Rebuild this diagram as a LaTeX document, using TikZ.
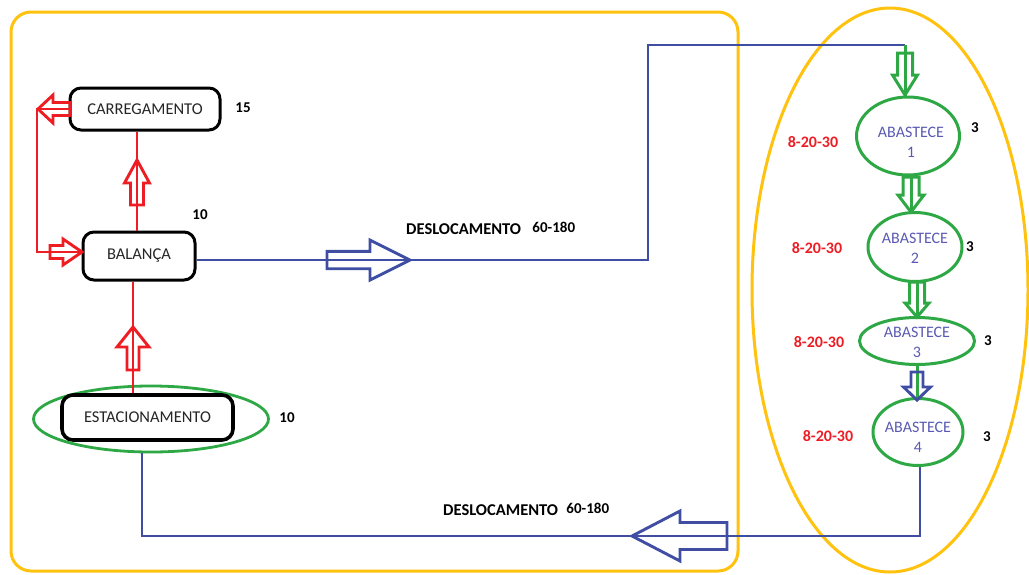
\documentclass[tikz,border=0pt]{standalone}
\usepackage{fontspec}
\setmainfont{Carlito}
\usetikzlibrary{shapes.geometric}
\definecolor{myred}{HTML}{EE1D24}
\definecolor{myblue}{HTML}{3F4EA3}
\definecolor{mygreen}{HTML}{2EA844}
\definecolor{myyellow}{HTML}{FFC20E}
\definecolor{abtxt}{HTML}{5A5AB4}
\newcommand{\hollowarrow}[8]{\draw[#1, shift={(#2,#3)}, rotate=#4] (0,0) -- (-#6,-#8) -- (-#6,-#7) -- (-#5,-#7) -- (-#5,#7) -- (-#6,#7) -- (-#6,#8) -- cycle;}
\tikzset{
  box/.style={draw=black, line width=3pt, rounded corners=11pt, fill=white, text=black!85, font=\fontsize{16.5}{19}\selectfont},
  ab/.style={ellipse, draw=mygreen, line width=3pt, inner sep=0pt},
  abt/.style={align=center, text=abtxt, font=\fontsize{16}{20}\selectfont, inner sep=0pt},
  num/.style={font=\bfseries\fontsize{15}{16}\selectfont, text=black},
  rng/.style={font=\bfseries\fontsize{16}{17}\selectfont, text=myred},
  dl/.style={font=\bfseries\fontsize{16.5}{17}\selectfont, text=black, anchor=west, inner sep=0pt},
  dln/.style={font=\bfseries\fontsize{15}{16}\selectfont, text=black, anchor=west, inner sep=0pt},
  redl/.style={draw=myred, line width=2.9pt},
  bluel/.style={draw=myblue, line width=2.9pt},
  greenl/.style={draw=mygreen, line width=3pt},
  yel/.style={draw=myyellow, line width=3pt}
}
\begin{document}
\begin{tikzpicture}[x=1pt,y=-1pt]
\useasboundingbox (0,0) rectangle (1029,574);
% yellow frames
\draw[yel, rounded corners=20pt] (11,12) rectangle (738,571);
\draw[yel] (890,290) ellipse [x radius=138pt, y radius=282pt];

% left nodes
\node[box, minimum width=150pt, minimum height=42pt] (car) at (145,109) {CARREGAMENTO};
\node[box, minimum width=112pt, minimum height=48pt] (bal) at (139,256) {BALANÇA};
\node[ellipse, draw=mygreen, line width=2.8pt, minimum width=235pt, minimum height=66pt] (estc) at (151,419) {};
\node[box, line width=3.6pt, minimum width=171pt, minimum height=45pt] (est) at (147.5,417.5) {ESTACIONAMENTO};

\node[num] (n15) at (243,108) {15};
\node[num] (n10a) at (200,215) {10};
\node[num] (n10b) at (287,418) {10};

% right nodes
\node[ab, minimum width=103pt, minimum height=78pt] (ab1) at (908,136) {};
\node[ab, minimum width=94pt, minimum height=69pt] (ab2) at (915,247) {};
\node[ab, minimum width=115pt, minimum height=47pt] (ab3) at (917,341) {};
\node[ab, minimum width=90pt, minimum height=67pt] (ab4) at (918,432) {};
\node[abt] (t1) at (911,142) {ABASTECE\\1};
\node[abt] (t2) at (915,248) {ABASTECE\\2};
\node[abt] (t3) at (917,342) {ABASTECE\\3};
\node[abt] (t4) at (918,437) {ABASTECE\\4};
\node[num] (c1) at (975,128) {3};
\node[num] (c2) at (970,247) {3};
\node[num] (c3) at (988,341) {3};
\node[num] (c4) at (987,437) {3};
\node[rng] (r1) at (813,142) {8-20-30};
\node[rng] (r2) at (817,248) {8-20-30};
\node[rng] (r3) at (819,342) {8-20-30};
\node[rng] (r4) at (828,436) {8-20-30};

% labels
\node[dl] (d1) at (406,229) {DESLOCAMENTO};
\node[dln] (d1n) at ([xshift=11pt, yshift=2pt]d1.east) {60-180};
\node[dl] (d2) at (443,510) {DESLOCAMENTO};
\node[dln] (d2n) at ([xshift=8pt, yshift=2pt]d2.east) {60-180};

% helper coordinates
\coordinate (xa) at (137,0);
\coordinate (xb) at (133,0);
\coordinate (lp) at (37,0);
\coordinate (tr) at (648,45);
\coordinate (tc) at (905,45);
\coordinate (g12) at (911,0);
\coordinate (g23) at (917,0);
\coordinate (br) at (920,536);
\coordinate (bl) at (142,536);

% red connectors
\draw[redl] (bal.north -| xa) -- (car.south -| xa);
\hollowarrow{redl}{137}{160}{90}{45}{23}{6.5}{12.5}
\draw[redl] (est.north -| xb) -- (bal.south -| xb);
\hollowarrow{redl}{133}{327}{90}{43}{20}{6}{16}
\draw[redl] (car.west) -- (car.west -| lp) -- ([yshift=4pt]bal.west -| lp) -- ([yshift=4pt]bal.west);
\hollowarrow{redl}{38}{109}{180}{32}{15}{6.5}{14}
\hollowarrow{redl}{82}{252}{0}{32}{19}{6.5}{13}

% blue top connector
\draw[bluel] ([yshift=-4pt]bal.east) -| (tr) -- (tc);
\hollowarrow{bluel}{410}{260}{0}{83}{40}{8.7}{20}

% green chain
\draw[greenl] (tc) -- (tc |- ab1.north);
\hollowarrow{greenl}{905}{95}{-90}{42}{20}{7.5}{12.5}
\draw[greenl] (ab1.south -| g12) -- (ab2.north -| g12);
\hollowarrow{greenl}{911}{212}{-90}{35}{17}{8}{13}
\draw[greenl] (ab2.south -| g23) -- (ab3.north -| g23);
\hollowarrow{greenl}{917}{317}{-90}{35}{14}{7.5}{12}
\draw[greenl] (ab3.south -| g23) -- (ab4.north -| g23);
\hollowarrow{bluel}{917}{400}{-90}{28}{13}{6}{13.5}

% blue bottom connector
\draw[bluel] (ab4.south -| br) -- (br) -- (bl) -- (estc.south -| bl);
\hollowarrow{bluel}{632}{536}{180}{95}{48}{13.5}{25}
\end{tikzpicture}
\end{document}
